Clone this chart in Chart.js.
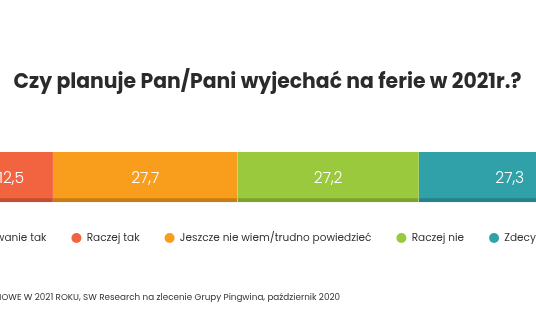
<!DOCTYPE html>
<html>
<head>
<meta charset="utf-8">
<script src="https://cdn.jsdelivr.net/npm/chart.js@4"></script>
<style>
  html, body { margin: 0; padding: 0; background: #fff; overflow: hidden; width: 536px; height: 332px; }
  #wrap { position: absolute; left: -99px; top: 0; width: 733px; height: 332px; }
</style>
</head>
<body>
<div id="wrap"><canvas id="ferie"></canvas></div>
<script>
// dane z wykresu (w %)
var kategorie = ['Ferie 2021'];
var odpowiedzi = ['Zdecydowanie tak', 'Raczej tak', 'Jeszcze nie wiem/trudno powiedzieć', 'Raczej nie', 'Zdecydowanie nie'];
var wartosci = [5.3, 12.5, 27.7, 27.2, 27.3];
var kolory = ['#d8343a', '#f26440', '#f99d1c', '#9bc93d', '#31a1a9'];
var koloryCienia = ['#ad2a2e', '#c24f33', '#c77d16', '#7ca131', '#278188'];
var tytul = 'Czy planuje Pan/Pani wyjechać na ferie w 2021r.?';
var zrodlo = 'PLANY ZIMOWE W 2021 ROKU, SW Research na zlecenie Grupy Pingwina, październik 2020';

var czcionka = "Poppins, Inter, 'Noto Sans', sans-serif";

var zestawy = odpowiedzi.map(function(nazwa, i) {
    return {
        label: nazwa,
        data: [wartosci[i]],
        backgroundColor: kolory[i],
        borderColor: koloryCienia[i],
        borderWidth: { top: 0, left: 0, right: 0, bottom: 4 },
        borderSkipped: false,
        barThickness: 50
    };
});

// napisy z wartościami na środku segmentów
var etykiety = {
    id: 'etykiety',
    afterDatasetsDraw: function(chart) {
        var ctx = chart.ctx;
        ctx.save();
        ctx.fillStyle = '#ffffff';
        ctx.font = '300 15.5px ' + czcionka;
        ctx.textAlign = 'center';
        ctx.textBaseline = 'middle';
        chart.data.datasets.forEach(function(ds, i) {
            var bar = chart.getDatasetMeta(i).data[0];
            var tekst = ds.data[0].toFixed(1).replace('.', ',');
            ctx.fillText(tekst, (bar.x + bar.base) / 2, bar.y + 2);
        });
        ctx.restore();
    }
};

// stopka ze źródłem
var stopka = {
    id: 'stopka',
    afterDraw: function(chart) {
        var ctx = chart.ctx;
        ctx.save();
        ctx.fillStyle = '#333333';
        ctx.font = '8.8px ' + czcionka;
        ctx.textAlign = 'right';
        ctx.textBaseline = 'middle';
        ctx.fillText(zrodlo, 439, 298);
        ctx.restore();
    }
};

var ctx = document.getElementById('ferie').getContext('2d');
var wykres = new Chart(ctx, {
    type: 'bar',
    data: {
        labels: kategorie,
        datasets: zestawy
    },
    options: {
        indexAxis: 'y',
        responsive: true,
        maintainAspectRatio: false,
        animation: false,
        layout: { padding: { left: 0, right: 0, top: 0, bottom: 78.75 } },
        scales: {
            // margines po 5 z każdej strony, żeby legenda zmieściła się w jednym wierszu
            x: { stacked: true, display: false, min: -5, max: 105 },
            y: { stacked: true, display: false }
        },
        plugins: {
            tooltip: { enabled: false },
            title: {
                display: true,
                text: tytul,
                color: '#2b2b2b',
                font: { family: czcionka, size: 20.4, weight: 'bold' },
                padding: { top: 71, bottom: 50.75 }
            },
            legend: {
                position: 'bottom',
                labels: {
                    usePointStyle: true,
                    pointStyle: 'circle',
                    pointStyleWidth: 10,
                    boxHeight: 7,
                    padding: 25,
                    color: '#333333',
                    font: { family: czcionka, size: 10.5 },
                    generateLabels: function(chart) {
                        // kółka w legendzie bez obramowania
                        return Chart.defaults.plugins.legend.labels.generateLabels(chart).map(function(item) {
                            item.lineWidth = 0;
                            item.strokeStyle = item.fillStyle;
                            return item;
                        });
                    }
                }
            }
        }
    },
    plugins: [etykiety, stopka]
});
</script>
</body>
</html>
